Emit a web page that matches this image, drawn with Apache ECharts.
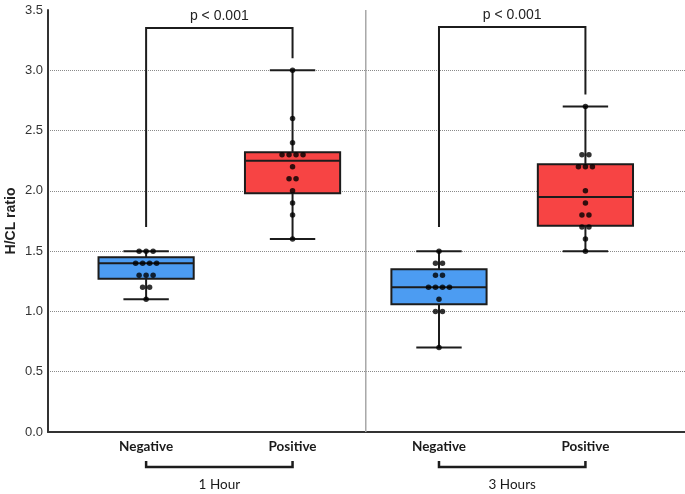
<!DOCTYPE html>
<html>
<head>
<meta charset="utf-8">
<script src="https://cdn.jsdelivr.net/npm/echarts@6/dist/echarts.min.js"></script>
<style>html,body{margin:0;padding:0;background:#fff;}#main{width:685px;height:494px;}</style>
</head>
<body>
<div id="main"></div>
<script>
// ---- data ----
const categories = ['Negative', 'Positive', 'Negative', 'Positive'];
const categoryX = [1, 2, 3, 4];
const groupLabels = ['1 Hour', '3 Hours'];
const groupStart = [1, 3];
const groupEnd = [2, 4];
const boxMin = [1.1, 1.6, 0.7, 1.5];
const boxQ1 = [1.27, 1.98, 1.06, 1.71];
const boxMedian = [1.4, 2.25, 1.2, 1.95];
const boxQ3 = [1.45, 2.32, 1.35, 2.22];
const boxMax = [1.5, 3.0, 1.5, 2.7];
const pointsNeg1h = [1.5, 1.5, 1.5, 1.4, 1.4, 1.4, 1.4, 1.3, 1.3, 1.3, 1.2, 1.2, 1.1];
const pointsPos1h = [3.0, 2.6, 2.4, 2.3, 2.3, 2.3, 2.3, 2.2, 2.1, 2.1, 2.0, 1.9, 1.8, 1.6];
const pointsNeg3h = [1.5, 1.4, 1.4, 1.3, 1.3, 1.2, 1.2, 1.2, 1.2, 1.1, 1.0, 1.0, 0.7];
const pointsPos3h = [2.7, 2.3, 2.3, 2.2, 2.2, 2.2, 2.0, 1.9, 1.8, 1.8, 1.7, 1.7, 1.6, 1.5];
const pValueLabels = ['p < 0.001', 'p < 0.001'];
const bracketTop = [3.35, 3.36];
const bracketLeftEnd = [1.7, 1.7];
const bracketRightEnd = [3.1, 2.8];
const separatorX = 2.5;
const yMin = 0, yMax = 3.5, yStep = 0.5;

const allPoints = [pointsNeg1h, pointsPos1h, pointsNeg3h, pointsPos3h];
const boxColors = ['#4c9cf2', '#f74444', '#4c9cf2', '#f74444'];

// build scatter data with beeswarm-like offsets for tied values
const scatterData = [];
allPoints.forEach((arr, gi) => {
  const counts = {};
  arr.forEach(v => { counts[v] = (counts[v] || 0) + 1; });
  const seen = {};
  arr.forEach(v => {
    const n = counts[v];
    const i = seen[v] || 0; seen[v] = i + 1;
    scatterData.push({ value: [categoryX[gi], v], symbolOffset: [(i - (n - 1) / 2) * 7, 0] });
  });
});

const boxData = categoryX.map((x, i) => [x, boxMin[i], boxQ1[i], boxMedian[i], boxQ3[i], boxMax[i], i]);
const bracketData = groupStart.map((s, i) => [s, groupEnd[i], bracketTop[i], bracketLeftEnd[i], bracketRightEnd[i], i]);
const STROKE = '#1c1c1c';

const chart = echarts.init(document.getElementById('main'), null, { renderer: 'canvas' });
chart.setOption({
  animation: false,
  grid: { left: 48, right: 0, top: 10, bottom: 62, containLabel: false, outerBoundsMode: 'none' },
  xAxis: {
    type: 'value', min: 0.33, max: 4.68,
    axisLine: { show: true, onZero: false, lineStyle: { color: '#333', width: 2 } },
    axisTick: { show: false }, axisLabel: { show: false }, splitLine: { show: false }
  },
  yAxis: {
    type: 'value', min: yMin, max: yMax, interval: yStep,
    name: 'H/CL ratio', nameLocation: 'middle', nameGap: 30, nameMoveOverlap: false,
    nameTextStyle: { fontFamily: 'Liberation Sans, Arial', fontWeight: 'bold', fontSize: 14, color: '#222' },
    axisLine: { show: true, lineStyle: { color: '#333', width: 2 } },
    axisTick: { show: false },
    axisLabel: { fontFamily: 'Liberation Sans, Arial', fontSize: 13, color: '#333', margin: 5,
      formatter: v => v.toFixed(1) },
    splitLine: { show: true, showMaxLine: false, lineStyle: { color: '#8a8a8a', type: [1, 1], width: 1 } }
  },
  series: [
    {
      type: 'custom', name: 'separator', data: [[separatorX]], clip: false, z: 1,
      renderItem(params, api) {
        const a = api.coord([api.value(0), yMax]);
        const b = api.coord([api.value(0), yMin]);
        return { type: 'line', shape: { x1: a[0], y1: a[1], x2: b[0], y2: b[1] },
          style: { stroke: '#a8a8a8', lineWidth: 1.5 } };
      }
    },
    {
      type: 'custom', name: 'boxes', data: boxData, z: 2,
      renderItem(params, api) {
        const x = api.value(0);
        const idx = api.value(6);
        const pMin = api.coord([x, api.value(1)]);
        const pQ1 = api.coord([x, api.value(2)]);
        const pMed = api.coord([x, api.value(3)]);
        const pQ3 = api.coord([x, api.value(4)]);
        const pMax = api.coord([x, api.value(5)]);
        const hw = api.coord([x + 0.325, 0])[0] - pMin[0];
        const cw = api.coord([x + 0.155, 0])[0] - pMin[0];
        const ls = { stroke: STROKE, lineWidth: 2 };
        const cx = pMin[0];
        return { type: 'group', children: [
          { type: 'line', shape: { x1: cx, y1: pMin[1], x2: cx, y2: pQ1[1] }, style: ls },
          { type: 'line', shape: { x1: cx, y1: pQ3[1], x2: cx, y2: pMax[1] }, style: ls },
          { type: 'line', shape: { x1: cx - cw, y1: pMin[1], x2: cx + cw, y2: pMin[1] }, style: ls },
          { type: 'line', shape: { x1: cx - cw, y1: pMax[1], x2: cx + cw, y2: pMax[1] }, style: ls },
          { type: 'rect', shape: { x: cx - hw, y: pQ3[1], width: 2 * hw, height: pQ1[1] - pQ3[1] },
            style: { fill: boxColors[idx], stroke: STROKE, lineWidth: 2 } },
          { type: 'line', shape: { x1: cx - hw, y1: pMed[1], x2: cx + hw, y2: pMed[1] }, style: ls }
        ] };
      }
    },
    {
      type: 'scatter', name: 'points', data: scatterData, symbol: 'circle', symbolSize: 5.5,
      itemStyle: { color: '#000' }, z: 5
    },
    {
      type: 'custom', name: 'brackets', data: bracketData, clip: false, z: 3,
      renderItem(params, api) {
        const x1 = api.value(0), x2 = api.value(1);
        const top = api.value(2);
        const tl = api.coord([x1, top]);
        const tr = api.coord([x2, top]);
        const bl = api.coord([x1, api.value(3)]);
        const br = api.coord([x2, api.value(4)]);
        return { type: 'group', children: [
          { type: 'polyline', shape: { points: [bl, tl, tr, br] },
            style: { stroke: STROKE, lineWidth: 2, fill: null } },
          { type: 'text', x: (tl[0] + tr[0]) / 2, y: tl[1] - 12,
            style: { text: pValueLabels[api.value(5)], fontFamily: 'Liberation Sans, Arial', fontSize: 14,
              fill: '#222', align: 'center', verticalAlign: 'middle' } }
        ] };
      }
    },
    {
      type: 'custom', name: 'categoryLabels', data: categoryX.map((x, i) => [x, i]), clip: false, z: 3,
      renderItem(params, api) {
        const p = api.coord([api.value(0), yMin]);
        return { type: 'text', x: p[0], y: p[1] + 15,
          style: { text: categories[api.value(1)], fontFamily: 'Lato, Open Sans', fontWeight: 'bold',
            fontSize: 13.5, fill: '#1a1a1a', align: 'center', verticalAlign: 'middle' } };
      }
    },
    {
      type: 'custom', name: 'groupLabels', data: groupStart.map((s, i) => [s, groupEnd[i], i]), clip: false, z: 3,
      renderItem(params, api) {
        const a = api.coord([api.value(0), yMin]);
        const b = api.coord([api.value(1), yMin]);
        const yb = a[1] + 35;
        return { type: 'group', children: [
          { type: 'polyline', shape: { points: [[a[0], yb - 6], [a[0], yb], [b[0], yb], [b[0], yb - 6]] },
            style: { stroke: STROKE, lineWidth: 2.5, fill: null } },
          { type: 'text', x: (a[0] + b[0]) / 2, y: a[1] + 53,
            style: { text: groupLabels[api.value(2)], fontFamily: 'Lato, Open Sans', fontSize: 13.5,
              fill: '#1a1a1a', align: 'center', verticalAlign: 'middle' } }
        ] };
      }
    }
  ]
});
</script>
</body>
</html>
